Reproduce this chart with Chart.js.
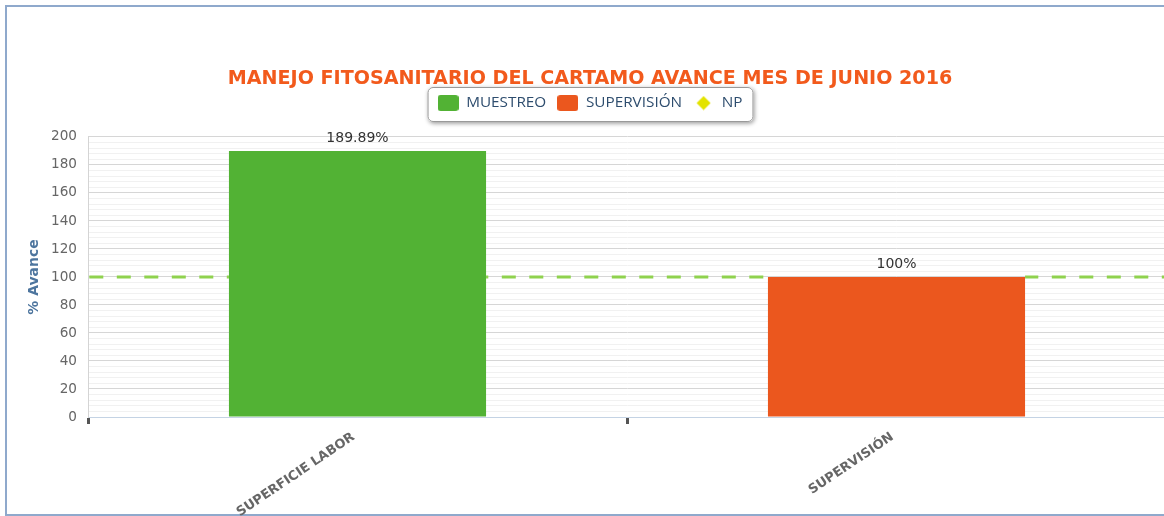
<!DOCTYPE html>
<html>
<head>
<meta charset="utf-8">
<script src="https://cdn.jsdelivr.net/npm/chart.js@4.4.1/dist/chart.umd.min.js"></script>
<style>
  html, body { margin: 0; padding: 0; background: #ffffff; overflow: hidden; width: 1164px; height: 516px; }
  #frame { position: absolute; left: 5px; top: 5px; width: 1220px; height: 511px; box-sizing: border-box; border: 2px solid #8fa9cc; }
  #chart { position: absolute; left: 0; top: 0; }
</style>
</head>
<body>
<div id="frame"></div>
<canvas id="chart" width="1180" height="516" style="width:1180px;height:516px"></canvas>
<script>
// ---- Data ----
const chartTitle = 'MANEJO FITOSANITARIO DEL CARTAMO AVANCE MES DE JUNIO 2016';
const categories = ['SUPERFICIE LABOR', 'SUPERVISIÓN'];
const seriesNames = ['MUESTREO', 'SUPERVISIÓN', 'NP'];
const muestreoValues = [189.89, null];
const supervisionValues = [null, 100];
const npValues = [null, null];
const targetValue = 100;
const yMin = 0;
const yMax = 200;
const yMajorStep = 20;
const yMinorStep = 4;
const yAxisTitle = '% Avance';

// ---- Styles ----
const GREEN = '#52b234';
const ORANGE = '#eb571e';
const YELLOW = '#e3e300';

function makeIcon(color, shape) {
  const c = document.createElement('canvas');
  if (shape === 'diamond') {
    c.width = 15; c.height = 15;
    const g = c.getContext('2d');
    g.fillStyle = color;
    g.beginPath();
    g.moveTo(7.5, 0.5); g.lineTo(14.5, 7.5); g.lineTo(7.5, 14.5); g.lineTo(0.5, 7.5);
    g.closePath(); g.fill();
  } else {
    c.width = 21; c.height = 16;
    const g = c.getContext('2d');
    g.fillStyle = color;
    g.beginPath();
    g.roundRect(0, 0, 21, 16, 3);
    g.fill();
  }
  return c;
}
const legendIcons = [makeIcon(GREEN, 'rect'), makeIcon(ORANGE, 'rect'), makeIcon(YELLOW, 'diamond')];

const targetLinePlugin = {
  id: 'targetLine',
  beforeDatasetsDraw(chart) {
    const y = chart.scales.y.getPixelForValue(targetValue);
    const a = chart.chartArea;
    const ctx = chart.ctx;
    ctx.save();
    // keep the line out of the bars that reach it (it sits behind them)
    ctx.beginPath();
    ctx.rect(a.left, a.top, a.right - a.left, a.bottom - a.top);
    chart.data.datasets.forEach((ds, di) => {
      if (ds.type === 'line') return;
      const meta = chart.getDatasetMeta(di);
      meta.data.forEach((el, i) => {
        const v = ds.data[i];
        if (v === null || v === undefined || v < targetValue) return;
        const half = el.width / 2;
        ctx.rect(el.x - half, el.y - 3, el.width, el.base - el.y + 3);
      });
    });
    ctx.clip('evenodd');
    ctx.strokeStyle = '#8fd24e';
    ctx.lineWidth = 3;
    ctx.setLineDash([14, 13.5]);
    ctx.beginPath();
    ctx.moveTo(a.left + 1.3, y);
    ctx.lineTo(a.right, y);
    ctx.stroke();
    ctx.restore();
  }
};

const legendFramePlugin = {
  id: 'legendFrame',
  beforeDraw(chart) {
    const lg = chart.legend;
    if (!lg || !lg.legendHitBoxes || !lg.legendHitBoxes.length) return;
    const hb = lg.legendHitBoxes;
    const x0 = hb[0].left - 10;
    const x1 = hb[hb.length - 1].left + hb[hb.length - 1].width + 11;
    const cy = hb[0].top + hb[0].height / 2;
    const y0 = cy - 16, y1 = cy + 19;
    const ctx = chart.ctx;
    ctx.save();
    ctx.shadowColor = 'rgba(0,0,0,0.4)';
    ctx.shadowBlur = 4;
    ctx.shadowOffsetX = 1;
    ctx.shadowOffsetY = 1.5;
    ctx.fillStyle = '#ffffff';
    ctx.beginPath();
    ctx.roundRect(x0, y0, x1 - x0, y1 - y0, 5);
    ctx.fill();
    ctx.shadowColor = 'transparent';
    ctx.strokeStyle = '#999999';
    ctx.lineWidth = 1;
    ctx.beginPath();
    ctx.roundRect(x0 + 0.5, y0 + 0.5, x1 - x0 - 1, y1 - y0 - 1, 5);
    ctx.stroke();
    ctx.restore();
  }
};

const dataLabelPlugin = {
  id: 'dataLabels',
  afterDatasetsDraw(chart) {
    const ctx = chart.ctx;
    ctx.save();
    ctx.font = '14px "DejaVu Sans"';
    ctx.fillStyle = '#333333';
    ctx.textAlign = 'center';
    ctx.textBaseline = 'middle';
    chart.data.datasets.forEach((ds, di) => {
      if (ds.type === 'line') return;
      const meta = chart.getDatasetMeta(di);
      ds.data.forEach((v, i) => {
        if (v === null || v === undefined) return;
        const el = meta.data[i];
        ctx.fillText(String(v) + '%', el.x, el.y - 12.7);
      });
    });
    ctx.restore();
  }
};

new Chart(document.getElementById('chart'), {
  type: 'bar',
  data: {
    labels: categories,
    datasets: [
      { label: seriesNames[0], data: muestreoValues, backgroundColor: GREEN, grouped: false, categoryPercentage: 1, barPercentage: 0.477 },
      { label: seriesNames[1], data: supervisionValues, backgroundColor: ORANGE, grouped: false, categoryPercentage: 1, barPercentage: 0.477 },
      { label: seriesNames[2], type: 'line', data: npValues, backgroundColor: YELLOW, borderColor: YELLOW, showLine: false, pointStyle: 'rectRot' }
    ]
  },
  options: {
    responsive: false,
    animation: false,
    events: [],
    layout: { padding: { left: 14, right: 14, top: 0, bottom: 0 } },
    plugins: {
      tooltip: { enabled: false },
      title: {
        display: true,
        text: chartTitle,
        color: '#f25a1c',
        font: { family: 'DejaVu Sans', size: 19.1, weight: 'bold', lineHeight: 0.6 },
        padding: { top: 72.9, bottom: 0 }
      },
      legend: {
        display: true,
        position: 'top',
        weight: 1600,
        labels: {
          usePointStyle: true,
          pointStyleWidth: 21,
          padding: 11,
          color: '#2e4d6e',
          font: { family: 'Open Sans', size: 15.3 },
          generateLabels(chart) {
            const items = Chart.defaults.plugins.legend.labels.generateLabels(chart);
            items.forEach(it => { it.pointStyle = legendIcons[it.datasetIndex]; });
            return items;
          }
        }
      },
      subtitle: {
        display: true,
        text: '',
        font: { size: 1, lineHeight: 1 },
        padding: { top: 15.3, bottom: 0 }
      }
    },
    scales: {
      x: {
        offset: true,
        grid: { display: true, offset: true, drawOnChartArea: false, drawTicks: true, tickLength: 7, tickWidth: 3, tickColor: '#555555' },
        border: { display: true, color: '#c4d3e4', width: 1 },
        ticks: {
          autoSkip: false, maxRotation: 34, minRotation: 34, padding: 5.5, labelOffset: -4,
          color: '#666666',
          font: { family: 'DejaVu Sans', size: 13, weight: 'bold' }
        },
        afterFit(scale) { scale.height = 99; }
      },
      y: {
        min: yMin, max: yMax,
        grid: {
          drawTicks: false,
          color: (c) => (c.tick && c.tick.value % yMajorStep === 0) ? '#d6d6d6' : '#f1f1f1',
          lineWidth: 1
        },
        border: { display: true, color: '#d4d4d4', width: 1 },
        ticks: {
          stepSize: yMinorStep, autoSkip: false, padding: 11,
          color: '#666666',
          font: { family: 'DejaVu Sans', size: 13.6 },
          callback: (v) => (v % yMajorStep === 0 ? String(v) : '')
        },
        title: {
          display: true, text: yAxisTitle, color: '#4d759e',
          font: { family: 'DejaVu Sans', size: 14, weight: 'bold', lineHeight: 1.2 },
          padding: { top: 12.4, bottom: 0 }
        },
        afterFit(scale) { scale.width = 74; }
      }
    }
  },
  plugins: [legendFramePlugin, targetLinePlugin, dataLabelPlugin]
});
</script>
</body>
</html>
